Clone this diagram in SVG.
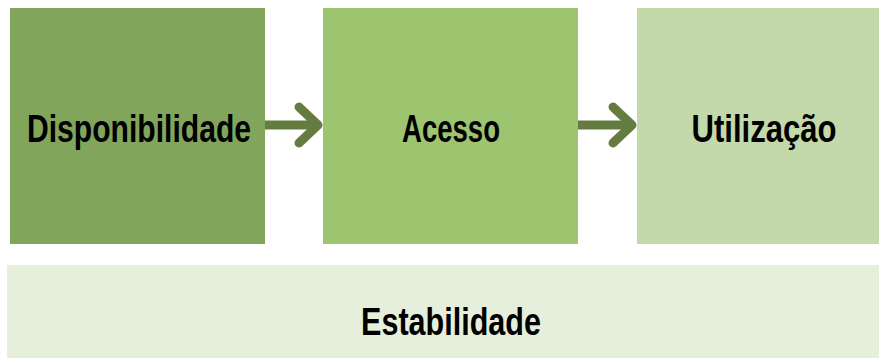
<svg xmlns="http://www.w3.org/2000/svg" width="879" height="358" viewBox="0 0 879 358">
<style>
.lbl{font-family:"Liberation Sans","Open Sans",sans-serif;font-weight:bold;font-size:39px;fill:#000;text-anchor:middle}
.con{fill:none;stroke:#657c41;stroke-width:9;stroke-linecap:round;stroke-linejoin:round}
.shaft{fill:none;stroke:#657c41;stroke-width:9;stroke-linecap:butt}
</style>
<rect width="879" height="358" fill="#fff"/>
<g id="disponibilidade"><rect x="10" y="8" width="255" height="236" fill="#82a55c"/><text class="lbl" x="139" y="142" textLength="224" lengthAdjust="spacingAndGlyphs">Disponibilidade</text></g>
<g id="acesso"><rect x="323" y="8" width="255" height="236" fill="#9dc46f"/><text class="lbl" x="451" y="142" textLength="98" lengthAdjust="spacingAndGlyphs">Acesso</text></g>
<g id="utilizacao"><rect x="637" y="8" width="242" height="236" fill="#c3d9a9"/><text class="lbl" x="764" y="142" textLength="145" lengthAdjust="spacingAndGlyphs">Utilização</text></g>
<g id="estabilidade"><rect x="7" y="265" width="872" height="93" fill="#e6efdc"/><text class="lbl" x="451" y="335" textLength="180" lengthAdjust="spacingAndGlyphs">Estabilidade</text></g>
<g id="connectors">
<path class="shaft" d="M265 125H316"/><path class="con" d="M299 107L318 125L299 143"/>
<path class="shaft" d="M578 125H630"/><path class="con" d="M613 107L632 125L613 143"/>
</g>
</svg>
